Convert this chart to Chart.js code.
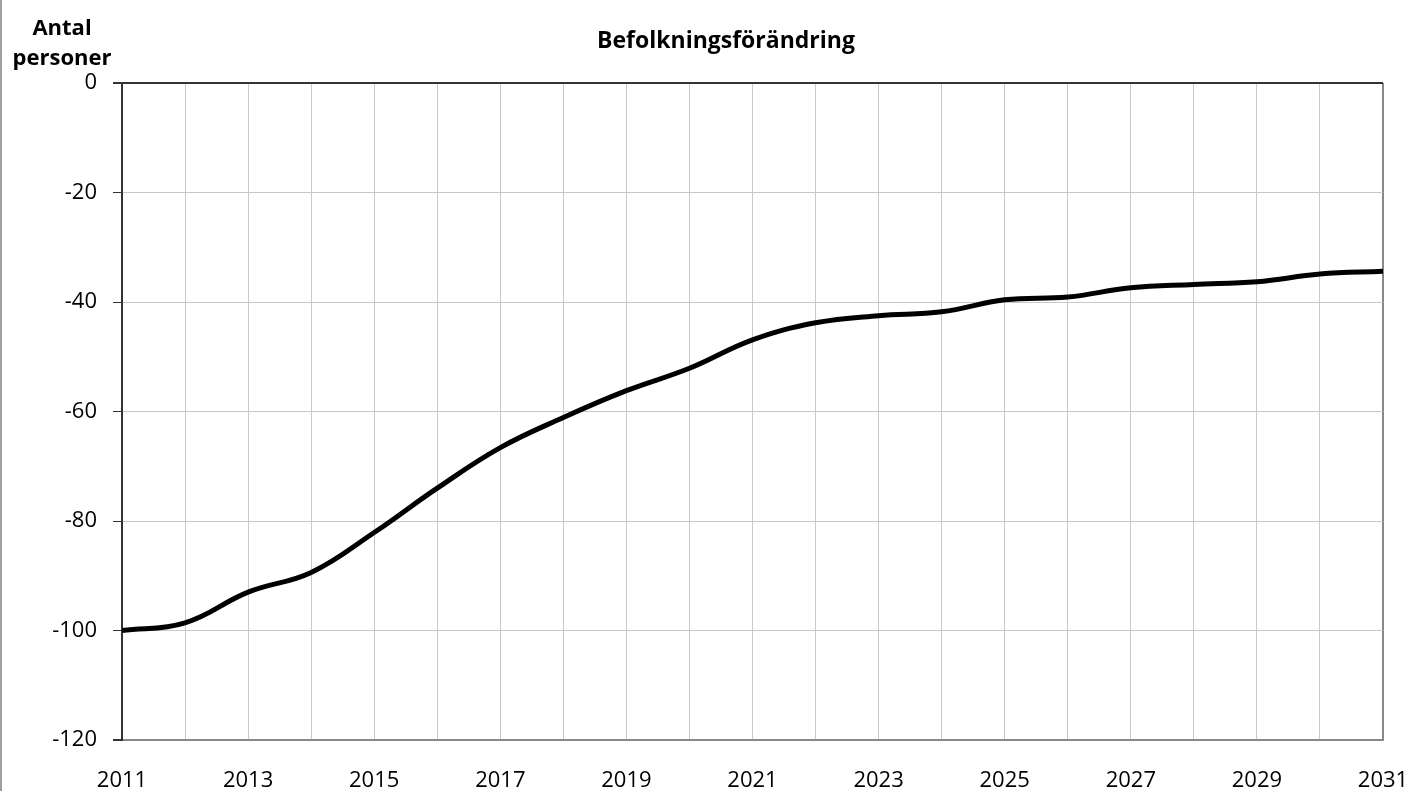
<!DOCTYPE html>
<html>
<head>
<meta charset="utf-8">
<script src="https://cdn.jsdelivr.net/npm/chart.js@4"></script>
<style>
  html, body { margin: 0; padding: 0; background: #fff; }
  #wrap { width: 1412px; height: 791px; }
</style>
</head>
<body>
<div id="wrap"><canvas id="chart" width="1412" height="791"></canvas></div>
<script>
// Chart data
const years = [2011, 2012, 2013, 2014, 2015, 2016, 2017, 2018, 2019, 2020, 2021,
               2022, 2023, 2024, 2025, 2026, 2027, 2028, 2029, 2030, 2031];
const change = [-100, -98.6, -93.0, -89.4, -82.1, -74.0, -66.6, -61.1, -56.2, -52.1, -46.9,
                -43.8, -42.5, -41.8, -39.6, -39.1, -37.4, -36.8, -36.3, -34.9, -34.4];
const chartTitle = 'Befolkningsförändring';
const yTitle = ['Antal', 'personer'];

const FONT = "'Open Sans', 'Liberation Sans', sans-serif";

// Draws title, axis caption and the frame line on the left edge
const textPlugin = {
    id: 'texts',
    afterDraw(chart) {
        const ctx = chart.ctx;
        ctx.save();
        ctx.fillStyle = '#000';
        ctx.textAlign = 'center';
        ctx.textBaseline = 'alphabetic';
        ctx.font = 'bold 23px ' + FONT;
        ctx.fillText(chartTitle, 726, 48);
        ctx.font = 'bold 22px ' + FONT;
        ctx.fillText(yTitle[0], 62, 35);
        ctx.fillText(yTitle[1], 62, 65);
        ctx.strokeStyle = '#a0a0a0';
        ctx.lineWidth = 2;
        ctx.beginPath();
        ctx.moveTo(1, 0);
        ctx.lineTo(1, chart.height);
        ctx.stroke();
        ctx.restore();
    }
};

new Chart(document.getElementById('chart'), {
    type: 'line',
    data: {
        datasets: [{
            data: years.map((y, i) => ({ x: y, y: change[i] })),
            borderColor: '#000',
            borderWidth: 5,
            pointRadius: 0,
            tension: 0.4,
            fill: false
        }]
    },
    options: {
        responsive: false,
        animation: false,
        layout: { padding: { top: 83, right: 29, left: 0, bottom: 0 } },
        plugins: {
            legend: { display: false },
            tooltip: { enabled: false }
        },
        scales: {
            x: {
                type: 'linear',
                min: 2011,
                max: 2031,
                afterFit: (s) => { s.height = 51; s.paddingLeft = 0; s.paddingRight = 0; },
                border: { display: true, color: '#888', width: 2 },
                grid: {
                    drawTicks: false,
                    color: (c) => c.tick && c.tick.value === 2031 ? '#888' : '#c8c8c8',
                    lineWidth: (c) => c.tick && c.tick.value === 2031 ? 2 : 1
                },
                ticks: {
                    stepSize: 1,
                    autoSkip: false,
                    maxRotation: 0,
                    padding: 28,
                    color: '#000',
                    font: { family: FONT, size: 22 },
                    callback: (v) => (v - 2011) % 2 === 0 ? String(v) : ''
                }
            },
            y: {
                min: -120,
                max: 0,
                afterFit: (s) => { s.width = 122; s.paddingTop = 0; s.paddingBottom = 0; },
                border: { display: true, color: '#333', width: 2 },
                grid: {
                    tickLength: 9,
                    tickColor: '#333',
                    color: (c) => {
                        if (!c.tick) return '#c8c8c8';
                        if (c.tick.value === 0) return '#333';
                        if (c.tick.value === -120) return '#888';
                        return '#c8c8c8';
                    },
                    lineWidth: (c) => c.tick && (c.tick.value === 0 || c.tick.value === -120) ? 2 : 1
                },
                ticks: {
                    stepSize: 20,
                    padding: 16,
                    color: '#000',
                    font: { family: FONT, size: 22 }
                }
            }
        }
    },
    plugins: [textPlugin]
});
</script>
</body>
</html>
